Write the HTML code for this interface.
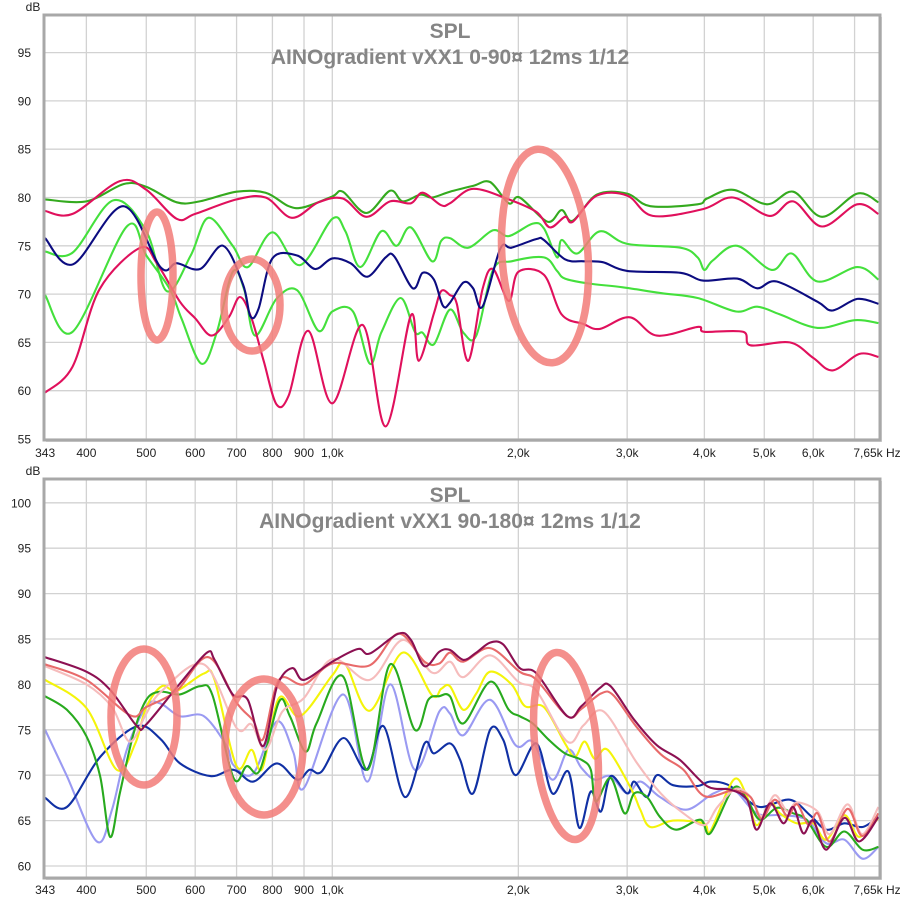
<!DOCTYPE html>
<html><head><meta charset="utf-8"><style>
html,body{margin:0;padding:0;background:#fff;}
svg{display:block;font-family:"Liberation Sans",sans-serif;}
</style></head><body>
<svg id="svg" width="900" height="902" viewBox="0 0 900 902" xmlns="http://www.w3.org/2000/svg">
<g id="top"></g>
<g id="bot"></g>
</svg>
<script>
// ---------- x axis ----------
const xTickFreqs = [400,500,600,700,800,900,1000,2000,3000,4000,5000,6000,7000];
const xTickLabelFreqs = [343,400,500,600,700,800,900,1000,2000,3000,4000,5000,6000];
const xTickLabels = ["343","400","500","600","700","800","900","1,0k","2,0k","3,0k","4,0k","5,0k","6,0k"];
// ---------- top chart data ----------
const topTitle = "AINOgradient vXX1 0-90¤ 12ms 1/12";
const topYTicks = [55,60,65,70,75,80,85,90,95];
const topDarkGreenF = [343,400,460,500,560,610,700,780,850,900,1000,1040,1135,1240,1300,1390,1450,1550,1690,1800,1930,2010,2230,2350,2450,2680,3000,3270,3900,4040,4450,5050,5570,6200,7070,7650];
const topDarkGreenV = [79.8,79.6,81.4,81.1,79.5,79.6,80.6,80.5,79.1,79.0,80.1,80.6,78.4,80.7,79.6,80.3,80.0,80.6,81.2,81.6,79.4,80.0,77.5,78.7,77.6,80.3,80.4,79.1,79.3,79.9,80.8,79.3,80.6,78.0,80.4,79.5];
const topCrimsonAF = [343,380,453,500,560,600,700,780,860,950,1040,1135,1240,1340,1400,1500,1550,1690,1930,2140,2250,2380,2450,2680,3000,3300,3980,4450,5100,5570,6200,7070,7650];
const topCrimsonAV = [78.6,78.3,81.7,80.8,77.8,78.3,79.8,80.0,77.9,79.5,79.9,78.0,79.6,79.4,80.5,79.2,79.4,80.9,79.8,78.5,76.9,78.0,77.5,80.2,80.2,78.1,78.8,80.0,78.1,79.6,77.0,79.3,78.3];
const topNavyF = [343,381,459,527,560,611,666,717,737,760,800,877,938,1000,1070,1140,1220,1260,1350,1400,1460,1510,1550,1630,1690,1750,1870,1950,2140,2200,2380,2550,2740,3000,3660,3980,4520,4870,5240,6100,6450,7070,7650];
const topNavyV = [75.8,73.1,79.1,72.8,73.2,72.6,75.0,71.0,67.7,68.5,73.7,74.0,72.6,73.7,73.2,71.8,73.8,73.9,70.6,72.2,71.5,68.8,69.1,71.2,70.6,68.7,74.7,74.8,75.7,75.6,73.6,73.4,73.3,72.4,72.2,71.4,71.6,70.6,71.3,69.2,68.3,69.5,69.0];
const topGreenAF = [343,380,442,500,540,590,630,690,730,800,887,1000,1050,1110,1200,1270,1340,1450,1500,1550,1660,1820,1930,2110,2200,2310,2350,2490,2710,3000,3660,3900,4000,4130,4520,5140,5540,6100,7070,7650];
const topGreenAV = [74.4,74.3,79.7,76.5,70.3,74.0,77.9,75.0,72.8,76.4,73.0,77.8,76.5,72.8,76.5,75.0,76.9,73.4,75.5,75.8,74.8,76.6,76.0,77.3,76.8,73.8,75.6,74.2,76.5,75.2,74.8,73.8,72.5,73.5,75.0,72.5,74.2,71.3,72.8,71.5];
const topGreenBF = [343,380,465,500,546,570,614,650,690,720,750,812,877,950,1000,1080,1150,1200,1290,1360,1400,1460,1550,1630,1710,1820,1950,2200,2310,2380,2600,2950,3400,3900,4500,4870,5300,6100,7000,7650];
const topGreenBV = [69.9,66.1,77.0,74.0,70.5,67.5,62.8,66.0,72.3,70.5,65.7,69.5,70.4,66.2,68.2,68.2,62.8,66.0,69.6,66.1,66.0,64.8,68.4,66.0,65.7,72.5,73.4,73.8,72.4,71.6,71.1,70.7,70.1,69.6,68.2,68.7,67.9,66.5,67.3,67.0];
const topCrimsonBF = [343,380,420,489,520,567,600,638,680,709,740,775,812,850,914,1000,1120,1220,1340,1380,1460,1500,1550,1590,1660,1750,1820,1930,2000,2200,2350,2550,2710,3030,3350,3900,4000,4620,4750,5500,6000,6450,7120,7650];
const topCrimsonBV = [59.8,62.5,70.5,74.8,73.2,69.2,67.5,65.7,67.6,69.7,67.5,63.0,58.6,59.5,66.2,58.7,66.8,56.3,67.8,63.1,68.0,70.3,69.9,69.0,63.1,70.5,72.6,69.3,72.3,72.0,67.9,66.9,66.4,67.6,65.7,66.6,66.1,66.1,64.7,65.0,63.4,62.1,63.8,63.5];
// ---------- bottom chart data ----------
const botTitle = "AINOgradient vXX1 90-180¤ 12ms 1/12";
const botYTicks = [60,65,70,75,80,85,90,95,100];
const botMaroonF = [343,400,437,483,500,567,627,645,690,730,773,814,861,900,1000,1100,1150,1280,1340,1410,1490,1550,1630,1710,1800,1890,2010,2140,2400,2530,2710,2820,3080,3350,3650,4040,4410,4690,4860,5110,5370,5570,5780,6000,6300,6740,7120,7650];
const botMaroonV = [83.0,81.4,79.4,75.4,75.6,80.1,83.5,82.7,78.9,78.3,73.2,79.8,81.8,80.5,82.5,83.9,83.4,85.6,84.9,82.0,83.6,83.8,82.7,83.5,84.6,84.4,81.8,81.2,76.5,77.6,79.6,79.8,76.1,73.3,71.7,68.8,68.4,67.3,64.0,66.9,64.7,66.5,63.6,65.0,61.8,65.3,62.7,65.4];
const botSalmonF = [343,400,471,500,560,630,700,745,773,820,900,1000,1150,1280,1410,1490,1550,1630,1800,2010,2140,2400,2530,2720,2850,3100,3400,3700,4000,4450,4750,4950,5200,5450,5650,5900,6100,6380,6820,7200,7650];
const botSalmonV = [82.2,80.5,76.6,77.5,79.3,83.0,78.0,76.0,74.0,80.5,80.0,82.3,82.1,85.6,82.5,82.3,83.5,82.5,84.0,81.4,80.5,76.5,77.3,79.0,78.8,75.4,72.3,70.6,67.7,68.3,67.6,65.2,67.3,65.5,66.8,64.5,65.8,62.7,66.3,63.3,65.8];
const botPinkF = [343,400,440,470,500,530,620,700,740,780,830,900,1000,1150,1300,1450,1550,1630,1800,2000,2140,2400,2550,2750,3100,3400,3700,4000,4200,4500,4750,4950,5200,5450,5650,6100,6380,6820,7200,7650];
const botPinkV = [82.0,80.0,77.5,73.7,76.8,79.3,82.2,75.2,75.6,72.8,77.0,78.5,82.8,80.5,84.9,81.3,82.5,80.8,83.2,80.3,79.3,73.7,75.5,77.0,71.5,68.0,65.8,64.5,66.5,68.5,67.6,65.5,67.8,66.0,67.0,66.0,63.5,66.8,63.5,66.5];
const botYellowF = [343,400,448,480,500,530,560,620,645,700,740,770,820,887,1000,1050,1150,1300,1450,1500,1550,1630,1710,1800,1950,2050,2200,2380,2470,2560,2660,2790,3050,3150,3270,3560,3990,4090,4460,4690,4860,5110,5300,5640,6000,6300,6740,7120,7650];
const botYellowV = [80.5,77.4,70.6,73.5,77.5,79.8,79.3,81.2,80.5,71.0,72.8,70.7,78.5,76.5,81.0,82.2,77.1,83.5,78.8,79.5,79.8,77.2,79.0,81.4,80.0,77.6,77.5,73.5,72.0,73.7,71.8,72.8,68.4,66.2,64.3,65.0,64.7,63.8,69.5,67.6,64.5,66.9,65.8,64.7,64.7,62.9,65.6,63.2,65.3];
const botGreenF = [343,372,400,421,437,453,477,500,527,567,611,640,692,727,764,820,854,905,943,1040,1140,1240,1360,1430,1490,1550,1630,1800,1930,2010,2110,2240,2380,2530,2620,2670,2820,2970,3080,3230,3390,3600,3940,4090,4460,4690,4920,5240,5570,5850,6300,6740,7210,7650];
const botGreenV = [78.7,77.2,74.3,69.9,63.2,68.0,74.6,78.3,79.2,78.9,79.8,78.8,69.7,71.0,70.6,78.1,76.5,72.6,75.7,80.9,70.6,82.2,75.0,78.3,78.7,78.7,75.7,80.3,77.2,76.5,75.7,73.9,72.4,71.7,70.6,67.1,69.7,65.8,68.0,67.6,65.4,64.0,65.1,63.6,68.6,67.3,65.1,66.4,65.8,65.1,62.1,63.8,61.8,62.1];
const botLavenderF = [343,372,416,440,465,500,527,567,620,675,692,745,813,865,900,1040,1140,1240,1360,1490,1550,1630,1800,1980,2110,2270,2410,2530,2660,2820,3000,3150,3390,3740,4140,4460,4860,5300,5850,6300,6740,7210,7650];
const botLavenderV = [75.0,69.9,62.7,66.2,72.8,77.6,77.9,76.5,76.5,73.2,71.1,70.2,75.9,72.5,68.6,78.9,69.3,80.0,70.6,77.0,76.8,74.4,78.3,73.3,73.7,69.5,72.8,70.8,69.5,69.9,68.0,69.3,67.6,66.2,68.0,68.4,65.8,65.6,65.1,62.5,62.9,60.8,62.1];
const botBlueF = [343,372,421,483,527,567,635,692,745,813,877,919,961,1043,1135,1210,1310,1410,1460,1550,1610,1690,1800,1890,1980,2140,2270,2410,2510,2620,2720,2820,3000,3080,3230,3350,3560,3890,4090,4350,4570,4920,5500,5930,6300,6740,7210,7650];
const botBlueV = [67.5,66.5,72.0,75.4,74.0,71.3,69.9,70.6,69.3,71.3,69.5,70.6,70.4,74.1,70.6,75.4,67.6,73.5,72.4,73.5,71.7,68.0,75.0,73.9,70.0,73.5,68.0,70.4,64.2,68.2,66.0,69.9,68.0,69.3,67.6,70.0,68.9,68.8,69.3,69.0,68.0,66.5,67.3,65.6,64.0,64.7,64.3,65.4];

const NS = "http://www.w3.org/2000/svg";
const PX_LEFT = 44, PX_RIGHT = 880, DEC = 618, X1K = 332.3;
function xScale(f){ return X1K + DEC*Math.log10(f/1000); }
function mk(parent, tag, attrs){ const e=document.createElementNS(NS,tag); for(const k in attrs) e.setAttribute(k,attrs[k]); parent.appendChild(e); return e; }
function smoothPath(F,V,ys){
  const p = F.map((f,i)=>[Math.min(Math.max(xScale(f),PX_LEFT),PX_RIGHT), ys(V[i])]);
  let d = "M"+p[0][0].toFixed(1)+","+p[0][1].toFixed(1);
  for(let i=0;i<p.length-1;i++){
    const p0=p[Math.max(i-1,0)], p1=p[i], p2=p[i+1], p3=p[Math.min(i+2,p.length-1)];
    const c1=[p1[0]+(p2[0]-p0[0])/6, p1[1]+(p2[1]-p0[1])/6];
    const c2=[p2[0]-(p3[0]-p1[0])/6, p2[1]-(p3[1]-p1[1])/6];
    d += "C"+c1[0].toFixed(1)+","+c1[1].toFixed(1)+" "+c2[0].toFixed(1)+","+c2[1].toFixed(1)+" "+p2[0].toFixed(1)+","+p2[1].toFixed(1);
  }
  return d;
}
function drawChart(g, cfg){
  const top=cfg.top, bot=cfg.bot;
  const ys = v => cfg.y0 - (v - cfg.v0)*cfg.ppd;
  // frame shadow + background
  let e = mk(g,"rect",{x:PX_LEFT+2,y:top+2,width:PX_RIGHT-PX_LEFT,height:bot-top,fill:"#d8d8d8"});
  
  
  e = mk(g,"rect",{x:PX_LEFT,y:top,width:PX_RIGHT-PX_LEFT,height:bot-top,fill:"#fff"});
  
  
  // grid
  cfg.yTicks.forEach(v=>{
    const y=ys(v);
    if(y>top && y<bot){
      const l=mk(g,"line",{x1:PX_LEFT,x2:PX_RIGHT,y1:y,y2:y,stroke:"#d2d2d2","stroke-width":1.3});
      
      
    }
    const t=mk(g,"text",{x:31,y:y+4.5,"text-anchor":"end","font-size":12,fill:"#222"});
    t.textContent=String(v);
    
    
  });
  xTickFreqs.forEach(f=>{
    const x=xScale(f);
    const l=mk(g,"line",{x1:x,x2:x,y1:top,y2:bot,stroke:"#d2d2d2","stroke-width":1.3});
    
    
  });
  xTickLabelFreqs.forEach((f,i)=>{
    const t=mk(g,"text",{x:xScale(f),y:cfg.xLabelY,"text-anchor":"middle","font-size":12,fill:"#222"});
    t.textContent=xTickLabels[i];
    
    
  });
  let t=mk(g,"text",{x:877,y:cfg.xLabelY,"text-anchor":"middle","font-size":12,fill:"#222"});
  t.textContent="7,65k Hz";
  
  
  t=mk(g,"text",{x:33,y:top-4,"text-anchor":"middle","font-size":12,fill:"#222"});
  t.textContent="dB";
  
  
  // titles
  t=mk(g,"text",{x:450,y:top+23,"text-anchor":"middle","font-size":21,"font-weight":"bold",fill:"#858585"});
  t.textContent="SPL";
  
  
  t=mk(g,"text",{x:450,y:top+49,"text-anchor":"middle","font-size":21,"font-weight":"bold",fill:"#858585"});
  t.textContent=cfg.title;
  
  
  // series
  cfg.series.forEach(s=>{
    const p=mk(g,"path",{d:smoothPath(s.F,s.V,ys),fill:"none",stroke:s.c,"stroke-width":2.1,"stroke-linejoin":"round"});
    
    
  });
  // annotation ellipses
  cfg.ell.forEach(a=>{
    const el=mk(g,"ellipse",{cx:a[0],cy:a[1],rx:a[2],ry:a[3],fill:"none",stroke:"#f27b78","stroke-opacity":0.85,"stroke-width":7.5,transform:"rotate("+(a[4]||0)+" "+a[0]+" "+a[1]+")"});
    
    
  });
  // frame
  e = mk(g,"rect",{x:PX_LEFT,y:top,width:PX_RIGHT-PX_LEFT,height:bot-top,fill:"none",stroke:"#a8a8a8","stroke-width":3});
  
  
}
drawChart(document.getElementById("top"),{
  top:15, bot:440, y0:439, v0:55, ppd:9.66, xLabelY:457, title:topTitle, yTicks:topYTicks,
  series:[
    {F:topGreenBF,V:topGreenBV,c:"#44e03c",n:"series-green-lower"},
    {F:topGreenAF,V:topGreenAV,c:"#44e03c",n:"series-green-upper"},
    {F:topCrimsonBF,V:topCrimsonBV,c:"#e0105c",n:"series-crimson-lower"},
    {F:topNavyF,V:topNavyV,c:"#0c0c80",n:"series-navy"},
    {F:topDarkGreenF,V:topDarkGreenV,c:"#34aa1e",n:"series-darkgreen-top"},
    {F:topCrimsonAF,V:topCrimsonAV,c:"#e0105c",n:"series-crimson-top"}
  ],
  ell:[[157,276,16,64,0],[252,305,28,46,0],[545,256,43,107,-4]]
});
drawChart(document.getElementById("bot"),{
  top:479, bot:878, y0:866, v0:60, ppd:9.08, xLabelY:894, title:botTitle, yTicks:botYTicks,
  series:[
    {F:botLavenderF,V:botLavenderV,c:"#9a9af2",n:"series-lavender"},
    {F:botBlueF,V:botBlueV,c:"#1030a4",n:"series-blue"},
    {F:botYellowF,V:botYellowV,c:"#f4f40a",n:"series-yellow"},
    {F:botGreenF,V:botGreenV,c:"#28aa1e",n:"series-green"},
    {F:botPinkF,V:botPinkV,c:"#f6bcbc",n:"series-light-pink"},
    {F:botSalmonF,V:botSalmonV,c:"#e86a6a",n:"series-salmon"},
    {F:botMaroonF,V:botMaroonV,c:"#8c1052",n:"series-maroon"}
  ],
  ell:[[144,717,33,68,0],[264,747,39,68,0],[566,746,31,94,-6]]
});
</script>
</body></html>
